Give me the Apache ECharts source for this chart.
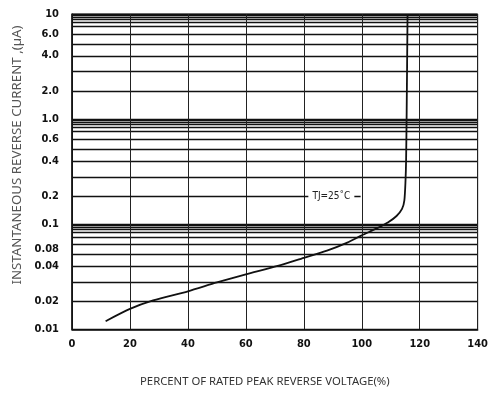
<!DOCTYPE html>
<html>
<head>
<meta charset="utf-8">
<script src="https://cdn.jsdelivr.net/npm/echarts@6/dist/echarts.min.js"></script>
<style>html,body{margin:0;padding:0;background:#fff}#c{width:491px;height:398px}</style>
</head>
<body>
<div id="c"></div>
<script>
// Curve: percent of rated peak reverse voltage vs instantaneous reverse current (uA)
const voltagePct = [11.6, 20, 28, 40, 50, 60, 71, 80, 88, 95, 100, 105, 109, 112, 113.9, 114.7, 115.1, 115.3, 115.5, 115.8];
const currentUA  = [0.012, 0.0157, 0.0189, 0.0231, 0.028, 0.0334, 0.0402, 0.048, 0.0562, 0.067, 0.0786, 0.091, 0.104, 0.12, 0.14, 0.169, 0.26, 0.41, 1.2, 10];

// Horizontal grid lines (as drawn on the original chart paper)
const decadeSteps = [1, 0.97, 0.935, 0.89, 0.84, 0.76, 0.645, 0.52, 0.4, 0.283, 0.185];
const decades = [10, 1, 0.1];
// Y tick labels and the grid lines they sit on
const yLabelValues = [10, 6.45, 4.04, 1.85, 1, 0.645, 0.4, 0.185, 0.1, 0.058, 0.04, 0.0185, 0.01];
const yLabelTexts  = ['10', '6.0', '4.0', '2.0', '1.0', '0.6', '0.4', '0.2', '0.1', '0.08', '0.04', '0.02', '0.01'];
const xTicks = [0, 20, 40, 60, 80, 100, 120, 140];
const annotationText = 'TJ=25\u02DAC';

const gridValues = [];
decades.forEach(function (d) {
  decadeSteps.forEach(function (s) {
    const v = +(d * s).toPrecision(4);
    if (!(d === 1 && s === 0.185)) gridValues.push(v);
  });
});
gridValues.push(0.01);

const labelFont = '"Liberation Sans Narrow", "DejaVu Sans Condensed", "Liberation Sans", sans-serif';

const chart = echarts.init(document.getElementById('c'), null, {renderer: 'canvas'});
chart.setOption({
  animation: false,
  backgroundColor: '#fff',
  grid: {left: 72, right: 9, top: 14, bottom: 68.5, show: true, borderColor: '#111', borderWidth: 1},
  xAxis: {
    type: 'value', min: 0, max: 140, interval: 20,
    name: 'PERCENT OF RATED PEAK REVERSE VOLTAGE(%)',
    nameLocation: 'middle', nameGap: 47,
    nameTextStyle: {fontFamily: 'Noto Sans', fontSize: 11.3, color: '#333', padding: [0, 20, 0, 0]},
    axisLine: {show: true, lineStyle: {color: '#111', width: 1.5}},
    axisTick: {show: false},
    axisLabel: {fontFamily: labelFont, fontWeight: 'bold', fontSize: 11, color: '#111', margin: 9,
      customValues: xTicks},
    splitLine: {show: true, lineStyle: {color: '#222', width: 1}}
  },
  yAxis: {
    type: 'log', logBase: 10, min: 0.01, max: 10,
    axisLine: {show: true, lineStyle: {color: '#111', width: 1.5}},
    axisTick: {show: false, customValues: gridValues},
    axisLabel: {
      fontFamily: labelFont, fontWeight: 'bold', fontSize: 11, color: '#111', margin: 13,
      customValues: yLabelValues,
      formatter: function (v) {
        let best = 0, bd = Infinity;
        yLabelValues.forEach(function (lv, i) {
          const dd = Math.abs(Math.log10(lv) - Math.log10(v));
          if (dd < bd) { bd = dd; best = i; }
        });
        return yLabelTexts[best];
      }
    },
    splitLine: {show: true, lineStyle: {color: '#111', width: 1.3}}
  },
  graphic: [{
    type: 'text', x: 17, y: 155, rotation: Math.PI / 2,
    style: {text: 'INSTANTANEOUS REVERSE CURRENT ,(\u00B5A)', fill: '#555',
      font: '13.3px "Noto Sans", sans-serif', align: 'center', verticalAlign: 'middle'}
  }],
  series: [{
    type: 'line',
    data: voltagePct.map(function (x, i) { return [x, currentUA[i]]; }),
    showSymbol: false, smooth: 0.25,
    lineStyle: {color: '#111', width: 1.8},
    markLine: {
      silent: true, symbol: 'none',
      lineStyle: {color: '#111', width: 1.3, type: 'solid'},
      label: {show: false},
      data: [[{coord: [0, 0.185]}, {coord: [99.6, 0.185]}]]
    },
    markPoint: {
      silent: true,
      symbol: 'rect', symbolSize: [46, 12],
      itemStyle: {color: '#fff'},
      label: {show: true, position: 'inside', color: '#222', fontSize: 10,
        fontFamily: '"DejaVu Sans Condensed", "Noto Sans", sans-serif',
        formatter: annotationText},
      data: [{coord: [89.5, 0.185]}]
    }
  }]
});
</script>
</body>
</html>
